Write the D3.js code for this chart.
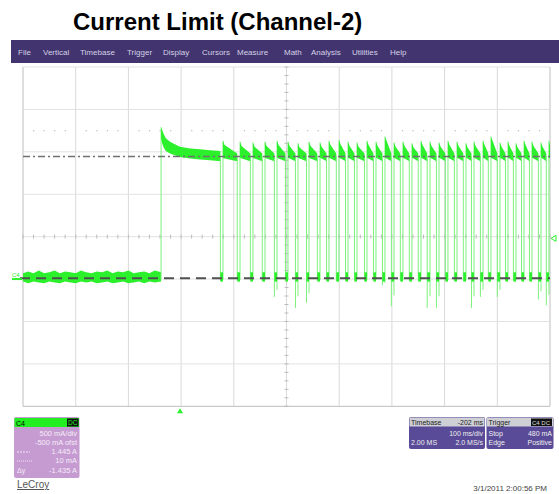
<!DOCTYPE html>
<html><head><meta charset="utf-8">
<script src="https://cdn.jsdelivr.net/npm/d3@7"></script>
<style>body{margin:0;background:#fff} svg{display:block;font-family:"Liberation Sans",Arial,sans-serif}</style>
</head><body><svg id="c" width="559" height="494"></svg>
<script>
// ---- data ----
const title = "Current Limit (Channel-2)";
const menuItems = ["File","Vertical","Timebase","Trigger","Display","Cursors","Measure","Math","Analysis","Utilities","Help"];
const menuX = [18,43,80,127,163,202,237,284,311,352,390];
// time in ms across screen (100 ms/div), current in A (500 mA/div, -500 mA offset)
const timeTicks = [0,100,200,300,400,500,600,700,800,900,1000];
const ampTicks = [-1.5,-1.0,-0.5,0,0.5,1.0,1.5,2.0,2.5];
const baseT  = [0,10,20,30,40,50,60,70,80,90,100,110,120,130,140,150,160,170,180,190,200,210,220,230,240,250,262];
const baseHi = [0.07,0.09,0.07,0.10,0.07,0.08,0.10,0.07,0.09,0.08,0.07,0.10,0.08,0.07,0.09,0.08,0.10,0.07,0.09,0.08,0.10,0.07,0.08,0.09,0.07,0.10,0.08];
const baseLo = [-0.03,-0.05,-0.03,-0.04,-0.05,-0.03,-0.04,-0.05,-0.03,-0.04,-0.05,-0.03,-0.04,-0.03,-0.05,-0.04,-0.03,-0.05,-0.04,-0.03,-0.05,-0.04,-0.03,-0.05,-0.03,-0.04,-0.03];
const stepT  = [262,264,267,271,279,288,298,317,336,355,374.5];
const stepHi = [1.79,1.76,1.71,1.66,1.62,1.59,1.56,1.54,1.53,1.52,1.51];
const stepLo = [1.66,1.60,1.55,1.51,1.48,1.46,1.44,1.42,1.41,1.40,1.39];
const pulseRise = [379.5,411.8,436.4,459.2,482,502.8,521.8,542.7,563.6,580.6,599.6,616.7,633.8,652.7,669.8,686.9,704,721,738.1,755.2,772.3,789.4,806.4,823.5,840.6,855.8,872.9,888,905.1,920.3,935.5,950.7,965.8,982.9,998];
const pulseDrop = [374.5,406.5,431.5,454,477,498,517,538,558.5,576,594.5,612,629,648,665,682,699,716,733,750,767,784.5,801.5,818.5,835.5,851,868,883,900,915.5,930.5,946,961,978,993];
const pulsePeak = [1.63,1.62,1.61,1.62,1.63,1.62,1.60,1.62,1.61,1.63,1.64,1.62,1.61,1.63,1.62,1.68,1.61,1.62,1.60,1.63,1.62,1.61,1.63,1.62,1.60,1.62,1.63,1.68,1.61,1.62,1.60,1.63,1.62,1.61,1.63];
const offMin = [-0.02,-0.02,-0.02,-0.02,-0.21,-0.02,-0.34,-0.28,-0.02,-0.02,-0.02,-0.02,-0.02,-0.02,-0.02,-0.07,-0.32,-0.02,-0.02,-0.02,-0.34,-0.34,-0.02,-0.02,-0.02,-0.34,-0.21,-0.02,-0.21,-0.02,-0.02,-0.02,-0.02,-0.24,-0.31];
const cursorHigh = 1.445, cursorLow = 0.01;
const triggerLevel = 0.48, triggerTime = 298;
const c4Lines = ["500 mA/div","-500 mA ofst","1.445 A","10 mA","-1.435 A"];
const tbHeader = ["Timebase","-202 ms"];
const trigHeader = "Trigger";

// ---- drawing ----
const svg = d3.select("#c");
const x = d3.scaleLinear().domain([0,1000]).range([23,550]);
const y = d3.scaleLinear().domain([-1.5,2.5]).range([406.3,67]);
const green = "#2cf02c", thin = "#7cf27c";

svg.append("text").attr("x",73).attr("y",30).attr("font-size",24).attr("font-weight","bold").attr("fill","#000").text(title);

svg.append("rect").attr("x",11).attr("y",40).attr("width",548).attr("height",23).attr("fill","#42356f");
svg.selectAll(".menu").data(menuItems).enter().append("text")
  .attr("x",(d,i)=>menuX[i]).attr("y",54.5).attr("font-size",8).attr("fill","#d4d0e6").text(d=>d);

// grid
const g = svg.append("g");
g.selectAll(".vg").data(timeTicks).enter().append("line")
  .attr("x1",d=>x(d)).attr("x2",d=>x(d)).attr("y1",y(2.5)).attr("y2",y(-1.5))
  .attr("stroke",(d,i)=>(i===0||i===10)?"#bdbdbd":"#d9d9d9").attr("stroke-width",1);
g.selectAll(".hg").data(ampTicks).enter().append("line")
  .attr("x1",x(0)).attr("x2",x(1000)).attr("y1",d=>y(d)).attr("y2",d=>y(d))
  .attr("stroke",(d,i)=>(i===0)?"#bdbdbd":"#e2e2e2").attr("stroke-width",1);
// center axis ticks
const minorT = d3.range(0,1001,20), minorA = d3.range(-1.5,2.51,0.1);
g.selectAll(".tx").data(minorT).enter().append("line")
  .attr("x1",d=>x(d)).attr("x2",d=>x(d)).attr("y1",y(0.5)-2).attr("y2",y(0.5)+2).attr("stroke","#bbb");
g.selectAll(".ty").data(minorA).enter().append("line")
  .attr("x1",x(500)-2).attr("x2",x(500)+2).attr("y1",d=>y(d)).attr("y2",d=>y(d)).attr("stroke","#bbb");
// dotted row
g.selectAll(".dt").data(minorT.filter(d=>d%100!==0)).enter().append("rect")
  .attr("x",d=>x(d)-0.5).attr("y",y(1.75)-0.5).attr("width",1.2).attr("height",1.2).attr("fill","#bbb");

// trace
const tr = svg.append("g");
const area = d3.area().x(d=>x(d.t)).y0(d=>y(d.lo)).y1(d=>y(d.hi));
tr.append("path").attr("d",area(baseT.map((t,i)=>({t,hi:baseHi[i],lo:baseLo[i]})))).attr("fill",green);
tr.append("line").attr("x1",x(262)).attr("x2",x(262)).attr("y1",y(0)).attr("y2",y(1.79)).attr("stroke",thin);
tr.append("path").attr("d",area(stepT.map((t,i)=>({t,hi:stepHi[i],lo:stepLo[i]})))).attr("fill",green);
pulseRise.forEach((r,i)=>{
  const d0 = pulseDrop[i];
  const end = i<pulseRise.length-1 ? pulseDrop[i+1] : 1000;
  tr.append("line").attr("x1",x(d0)).attr("x2",x(d0)).attr("y1",y(1.45)).attr("y2",y(offMin[i])).attr("stroke",thin);
  tr.append("line").attr("x1",x(r)).attr("x2",x(r)).attr("y1",y(Math.min(0,offMin[i]*0.6))).attr("y2",y(pulsePeak[i])).attr("stroke",thin);
  tr.append("rect").attr("x",x(d0)).attr("width",Math.max(2.5,x(r)-x(d0))).attr("y",y(0.08)).attr("height",y(-0.03)-y(0.08)).attr("fill",green);
  const pts = [{t:r,hi:pulsePeak[i],lo:1.43},{t:Math.min(r+3,end),hi:pulsePeak[i]-0.05,lo:1.42},{t:end,hi:1.48,lo:1.39}];
  tr.append("path").attr("d",area(pts)).attr("fill",green);
});

// cursors
svg.append("line").attr("x1",x(0)).attr("x2",x(1000)).attr("y1",y(cursorHigh)).attr("y2",y(cursorHigh))
  .attr("stroke","#707070").attr("stroke-width",1.5).attr("stroke-dasharray","7,3,2,3");
svg.append("line").attr("x1",x(0)-3).attr("x2",x(1000)).attr("y1",y(cursorLow)).attr("y2",y(cursorLow))
  .attr("stroke","#505050").attr("stroke-width",2).attr("stroke-dasharray","10,6");

// markers
svg.append("path").attr("d",`M${x(1000)+1},${y(triggerLevel)} l5,-3 l0,6 z`).attr("fill","none").attr("stroke",green);
svg.append("path").attr("d",`M${x(triggerTime)},${y(-1.5)+2} l-3,5 l6,0 z`).attr("fill",green);
svg.append("text").attr("x",12).attr("y",y(0)-2).attr("font-size",6).attr("fill",green).text("C4");
svg.append("line").attr("x1",12).attr("x2",22).attr("y1",y(0)).attr("y2",y(0)).attr("stroke",green).attr("stroke-width",2);

// C4 box
const cb = svg.append("g");
cb.append("rect").attr("x",14).attr("y",417).attr("width",65.5).attr("height",61).attr("rx",2).attr("fill","#c69bd2");
cb.append("rect").attr("x",14.5).attr("y",418).attr("width",64.5).attr("height",9).attr("fill","#22ee22");
cb.append("text").attr("x",16).attr("y",425.5).attr("font-size",7).attr("fill","#000").text("C4");
cb.append("rect").attr("x",67).attr("y",418.5).attr("width",11.5).attr("height",8).attr("fill","#111");
cb.append("text").attr("x",68).attr("y",425.3).attr("font-size",6.5).attr("fill","#22ee22").text("DC");
const c4Y = [436,445,454,463,473];
cb.selectAll(".c4t").data(c4Lines).enter().append("text").attr("x",77).attr("y",(d,i)=>c4Y[i])
  .attr("text-anchor","end").attr("font-size",7.5).attr("fill","#f4ecf7").text(d=>d);
cb.append("line").attr("x1",17).attr("x2",30).attr("y1",452).attr("y2",452).attr("stroke","#f0e6f4").attr("stroke-dasharray","2,1");
cb.append("line").attr("x1",17).attr("x2",32).attr("y1",461).attr("y2",461).attr("stroke","#f0e6f4").attr("stroke-dasharray","1,1");
cb.append("text").attr("x",17).attr("y",473).attr("font-size",7).attr("fill","#f4ecf7").text("Δy");
svg.append("text").attr("x",17).attr("y",488).attr("font-size",10).attr("fill","#555").attr("text-decoration","underline").text("LeCroy");

// timebase box
const tb = svg.append("g");
tb.append("rect").attr("x",409).attr("y",417).attr("width",76).attr("height",32).attr("rx",2).attr("fill","#5a4b98");
tb.append("rect").attr("x",409.5).attr("y",417.5).attr("width",75).attr("height",9).attr("fill","#cfcfd6");
tb.append("text").attr("x",411).attr("y",425).attr("font-size",7).attr("fill","#222").text(tbHeader[0]);
tb.append("text").attr("x",483).attr("y",425).attr("font-size",7).attr("text-anchor","end").attr("fill","#222").text(tbHeader[1]);
tb.append("text").attr("x",483).attr("y",435.5).attr("font-size",7).attr("text-anchor","end").attr("fill","#eee").text("100 ms/div");
tb.append("text").attr("x",411).attr("y",444.5).attr("font-size",7).attr("fill","#eee").text("2.00 MS");
tb.append("text").attr("x",483).attr("y",444.5).attr("font-size",7).attr("text-anchor","end").attr("fill","#eee").text("2.0 MS/s");
// trigger box
const tg = svg.append("g");
tg.append("rect").attr("x",486.5).attr("y",417).attr("width",67).attr("height",32).attr("rx",2).attr("fill","#5a4b98");
tg.append("rect").attr("x",487).attr("y",417.5).attr("width",66).attr("height",9).attr("fill","#cfcfd6");
tg.append("text").attr("x",488.5).attr("y",425).attr("font-size",7).attr("fill","#222").text(trigHeader);
tg.append("rect").attr("x",531).attr("y",418.5).attr("width",21).attr("height",7.5).attr("fill","#111");
tg.append("text").attr("x",532).attr("y",424.8).attr("font-size",6).attr("fill","#ddd").text("C4 DC");
tg.append("text").attr("x",488.5).attr("y",435.5).attr("font-size",7).attr("fill","#eee").text("Stop");
tg.append("text").attr("x",552).attr("y",435.5).attr("font-size",7).attr("text-anchor","end").attr("fill","#eee").text("480 mA");
tg.append("text").attr("x",488.5).attr("y",444.5).attr("font-size",7).attr("fill","#eee").text("Edge");
tg.append("text").attr("x",552).attr("y",444.5).attr("font-size",7).attr("text-anchor","end").attr("fill","#eee").text("Positive");

svg.append("text").attr("x",547).attr("y",491).attr("font-size",8).attr("text-anchor","end").attr("fill","#444").text("3/1/2011 2:00:56 PM");
</script></body></html>
